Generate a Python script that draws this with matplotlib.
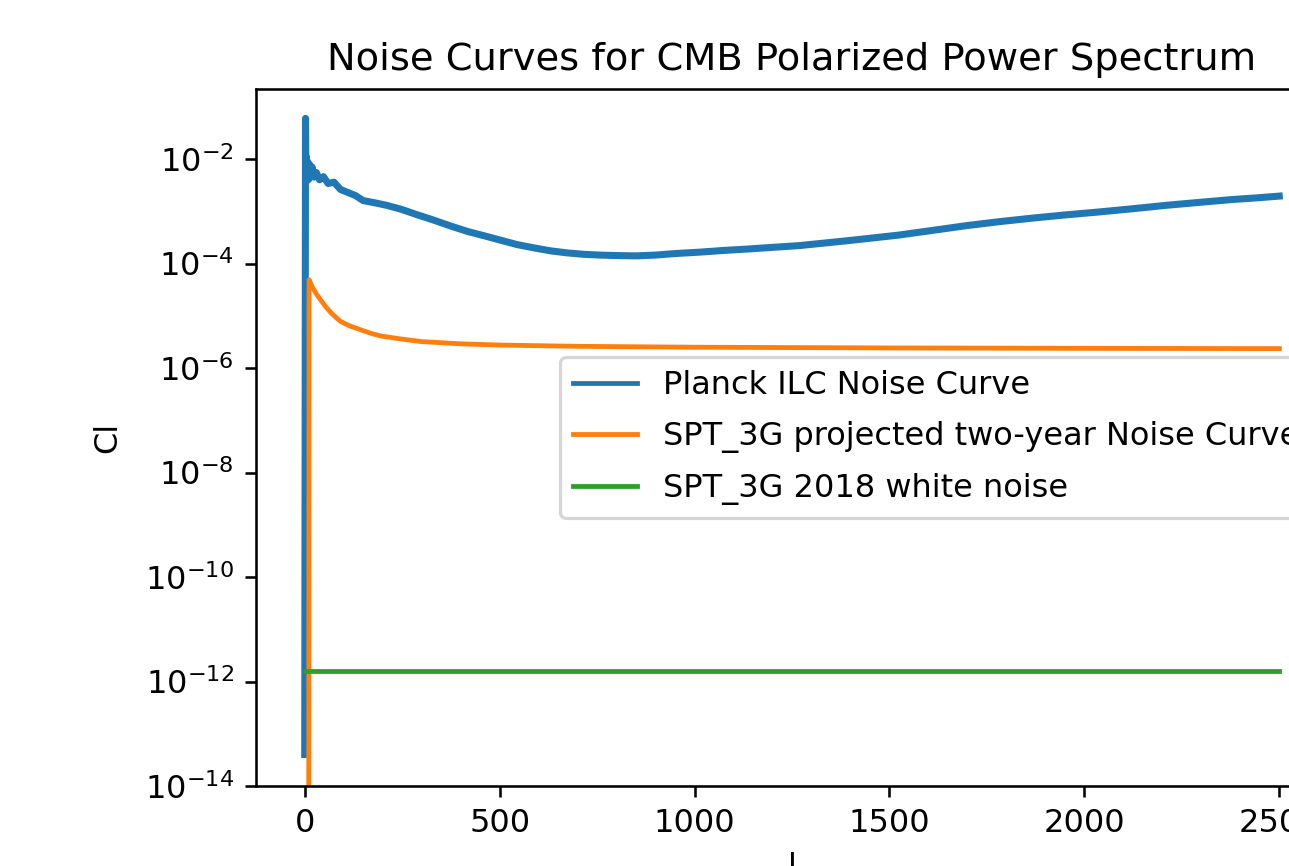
import numpy as np
import matplotlib
matplotlib.use("Agg")
import matplotlib.pyplot as plt

# Planck ILC noise curve
planck_l = [0, 2, 3, 4, 5, 7, 9, 12, 15, 19, 24, 30, 38, 48, 60, 75, 92, 110,
            130, 150, 180, 210, 246, 290, 330, 375, 418, 460, 502, 545, 587,
            630, 672, 715, 757, 800, 850, 900, 950, 1013, 1075, 1140, 1205,
            1268, 1330, 1396, 1460, 1524, 1610, 1697, 1780, 1867, 1950, 2038,
            2125, 2210, 2295, 2380, 2440, 2500]
planck_cl = [4e-14, 6e-2, 4e-3, 1.1e-2, 3.8e-3, 9e-3, 4e-3, 8e-3, 4.5e-3, 7e-3,
             4.5e-3, 5.5e-3, 4e-3, 4.6e-3, 3.4e-3, 3.6e-3, 2.6e-3, 2.3e-3,
             2.0e-3, 1.6e-3, 1.45e-3, 1.3e-3, 1.1e-3, 8.5e-4, 6.8e-4, 5.2e-4,
             4.1e-4, 3.4e-4, 2.8e-4, 2.3e-4, 2.0e-4, 1.75e-4, 1.6e-4, 1.5e-4,
             1.45e-4, 1.42e-4, 1.4e-4, 1.45e-4, 1.55e-4, 1.65e-4, 1.78e-4,
             1.9e-4, 2.05e-4, 2.2e-4, 2.45e-4, 2.75e-4, 3.1e-4, 3.5e-4, 4.3e-4,
             5.3e-4, 6.3e-4, 7.4e-4, 8.5e-4, 9.7e-4, 1.12e-3, 1.3e-3, 1.48e-3,
             1.68e-3, 1.8e-3, 1.95e-3]

# SPT-3G projected two-year noise curve
spt_l = [10, 11, 15, 20, 30, 41, 55, 67, 80, 92, 115, 143, 170, 195, 246, 300,
         400, 500, 700, 1000, 1500, 2000, 2500]
spt_cl = [1e-18, 4.9e-5, 4.2e-5, 3.5e-5, 2.6e-5, 2.0e-5, 1.45e-5, 1.15e-5,
          9.3e-6, 7.8e-6, 6.4e-6, 5.4e-6, 4.6e-6, 4.1e-6, 3.6e-6, 3.2e-6,
          2.9e-6, 2.75e-6, 2.6e-6, 2.5e-6, 2.42e-6, 2.38e-6, 2.35e-6]

# SPT-3G 2018 white noise level
white_l = [0, 2500]
white_cl = [1.6e-12, 1.6e-12]

labels = ["Planck ILC Noise Curve",
          "SPT_3G projected two-year Noise Curve",
          "SPT_3G 2018 white noise"]

scale = 3.2
dpi = 72 * scale
fig = plt.figure(figsize=(1289 / dpi, 866 / dpi), dpi=dpi)
ax = fig.add_axes([256 / 1289, 80 / 866, 1072 / 1289, 697 / 866])

ax.plot(planck_l, planck_cl, color="tab:blue", lw=2.2, label=labels[0])
ax.plot(spt_l, spt_cl, color="tab:orange", lw=1.5, label=labels[1])
ax.plot(white_l, white_cl, color="tab:green", lw=1.5, label=labels[2])

ax.set_yscale("log")
ax.set_xlim(-125, 2625)
ax.set_ylim(1e-14, 10 ** -0.66)
ax.set_title("Noise Curves for CMB Polarized Power Spectrum")
ax.set_xlabel("l")
ax.set_ylabel("Cl", labelpad=6.5)

leg = ax.legend(loc="center right", labelspacing=0.63)
leg.get_lines()[0].set_linewidth(1.5)

fig.savefig("out.png", dpi=dpi)
